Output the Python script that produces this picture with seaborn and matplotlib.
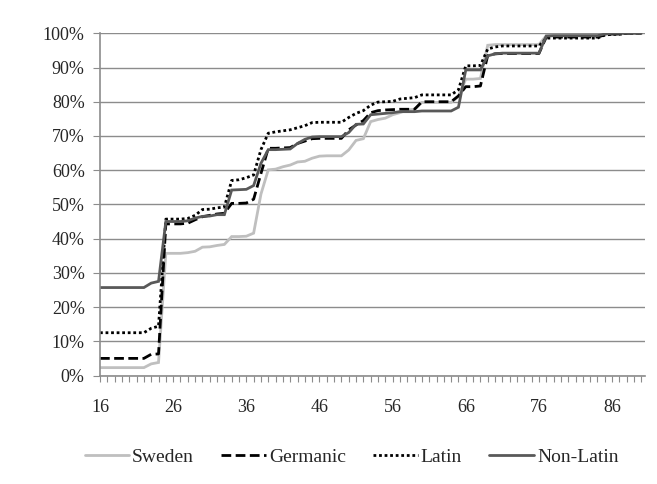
import numpy as np
import pandas as pd
import matplotlib
matplotlib.use("Agg")
import matplotlib.pyplot as plt
from matplotlib.ticker import FixedLocator, MultipleLocator, FuncFormatter
from matplotlib.lines import Line2D
import seaborn as sns

# Cumulative share (%) by age, ages 16..90
ages = list(range(16, 91))

sweden = [2.3, 2.3, 2.3, 2.3, 2.3, 2.3, 2.3, 3.4, 3.8, 35.7,
          35.7, 35.7, 35.9, 36.3, 37.5, 37.6, 38.0, 38.3, 40.6, 40.6,
          40.7, 41.6, 53.0, 60.1, 60.3, 61.0, 61.5, 62.4, 62.6, 63.5,
          64.1, 64.2, 64.2, 64.2, 65.9, 68.7, 69.2, 74.2, 74.8, 75.2,
          76.2, 76.8, 77.6, 77.8, 79.8, 79.8, 79.8, 79.8, 79.8, 81.5,
          86.6, 86.6, 86.8, 96.5, 96.7, 96.7, 96.7, 96.7, 96.7, 96.7,
          96.7, 99.3, 99.3, 99.3, 99.3, 99.3, 99.3, 99.3, 99.3, 99.7,
          99.8, 99.8, 100.0, 100.0, 100.0]

germanic = [5.0, 5.0, 5.0, 5.0, 5.0, 5.0, 5.0, 6.2, 6.3, 44.3,
            44.3, 44.3, 44.5, 45.5, 46.4, 46.8, 47.2, 47.4, 50.3, 50.3,
            50.4, 51.5, 59.0, 66.4, 66.4, 66.5, 66.6, 67.8, 68.5, 69.2,
            69.3, 69.3, 69.3, 69.3, 71.8, 73.2, 74.5, 76.8, 77.4, 77.6,
            77.7, 77.8, 77.8, 77.8, 80.0, 80.0, 80.0, 80.0, 80.0, 81.7,
            84.4, 84.4, 84.6, 93.5, 94.0, 94.1, 94.1, 94.1, 94.1, 94.1,
            94.1, 98.9, 98.9, 98.9, 98.9, 98.9, 98.9, 98.9, 98.9, 99.5,
            99.8, 99.8, 100.0, 100.0, 100.0]

latin = [12.5, 12.5, 12.5, 12.5, 12.5, 12.5, 12.5, 13.8, 14.4, 45.7,
         45.7, 45.7, 45.9, 46.8, 48.5, 48.6, 49.0, 49.2, 57.0, 57.2,
         57.8, 58.6, 66.0, 70.8, 71.2, 71.5, 71.8, 72.4, 73.0, 73.9,
         74.0, 74.0, 74.0, 74.0, 75.4, 76.6, 77.4, 79.0, 79.9, 80.0,
         80.1, 80.8, 81.0, 81.2, 82.0, 82.0, 82.0, 82.0, 82.0, 83.5,
         90.5, 90.5, 90.6, 95.4, 96.0, 96.3, 96.3, 96.3, 96.3, 96.3,
         96.3, 98.6, 98.6, 98.6, 98.6, 98.6, 98.6, 98.6, 98.6, 99.5,
         99.7, 99.7, 100.0, 100.0, 100.0]

non_latin = [25.7, 25.7, 25.7, 25.7, 25.7, 25.7, 25.7, 27.0, 27.5, 45.0,
             45.0, 45.0, 45.2, 46.0, 46.5, 46.6, 47.0, 47.0, 54.2, 54.3,
             54.4, 55.5, 62.0, 66.0, 66.0, 66.1, 66.2, 67.8, 69.0, 69.7,
             69.8, 69.8, 69.8, 69.8, 71.0, 73.4, 73.5, 76.2, 76.4, 76.6,
             76.8, 77.1, 77.1, 77.1, 77.3, 77.3, 77.3, 77.3, 77.3, 78.4,
             89.3, 89.3, 89.3, 93.4, 94.0, 94.2, 94.2, 94.2, 94.2, 94.2,
             94.2, 99.2, 99.3, 99.3, 99.3, 99.3, 99.3, 99.3, 99.3, 99.8,
             100.0, 100.0, 100.0, 100.0, 100.0]

series_names = ["Sweden", "Germanic", "Latin", "Non-Latin"]
series_values = [sweden, germanic, latin, non_latin]
x_tick_labels = [16, 26, 36, 46, 56, 66, 76, 86]
y_tick_values = list(range(0, 101, 10))

styles = {
    "Sweden":    dict(color="#BFBFBF", linestyle="-", lw=2.0),
    "Germanic":  dict(color="#000000", linestyle=(0, (3.5, 1.6)), lw=2.0),
    "Latin":     dict(color="#000000", linestyle=(0, (1, 1)), lw=2.0),
    "Non-Latin": dict(color="#595959", linestyle="-", lw=2.0),
}

sns.set_style("white")
plt.rcParams["font.family"] = ["Liberation Serif", "DejaVu Serif"]
plt.rcParams["font.size"] = 13

fig = plt.figure(figsize=(6.57, 4.84), dpi=100)
ax = fig.add_axes([100 / 657, 1 - 375.5 / 484, 545 / 657, (375.5 - 33.3) / 484])

for name, vals in zip(series_names, series_values):
    df = pd.DataFrame({"age": ages, "share": vals})
    st = styles[name]
    sns.lineplot(data=df, x="age", y="share", ax=ax, color=st["color"],
                 linestyle=st["linestyle"], linewidth=st["lw"], label=name,
                 solid_joinstyle="miter")

ax.set_xlim(16, 90.5)
ax.set_ylim(0, 100)
ax.set_xlabel("")
ax.set_ylabel("")

axis_gray = "#8C8C8C"
ax.yaxis.set_major_locator(FixedLocator(y_tick_values))
ax.yaxis.set_major_formatter(FuncFormatter(lambda v, p: f"{v:.0f}%"))
ax.grid(axis="y", color=axis_gray, linewidth=1.0)
ax.grid(axis="x", visible=False)

ax.xaxis.set_major_locator(FixedLocator(x_tick_labels))
ax.xaxis.set_minor_locator(MultipleLocator(1))
ax.tick_params(axis="x", which="both", direction="out", length=4, width=0.8,
               color=axis_gray, bottom=True, pad=13, labelsize=13)
ax.tick_params(axis="y", which="major", direction="out", length=5, width=0.8,
               color=axis_gray, left=True, pad=6, labelsize=13)

for side in ["top", "right"]:
    ax.spines[side].set_visible(False)
for side in ["left", "bottom"]:
    ax.spines[side].set_color(axis_gray)
    ax.spines[side].set_linewidth(1.2)

ax.get_legend().remove()
handles = [Line2D([0], [0], color=styles[n]["color"], linestyle=styles[n]["linestyle"],
                  linewidth=styles[n]["lw"]) for n in series_names]
fig.legend(handles, series_names, loc="center", bbox_to_anchor=(0.535, 1 - 457 / 484),
           ncol=4, frameon=False, handlelength=2.3, handletextpad=0.15,
           columnspacing=1.4, fontsize=14)

fig.savefig("out.png", dpi=100)
